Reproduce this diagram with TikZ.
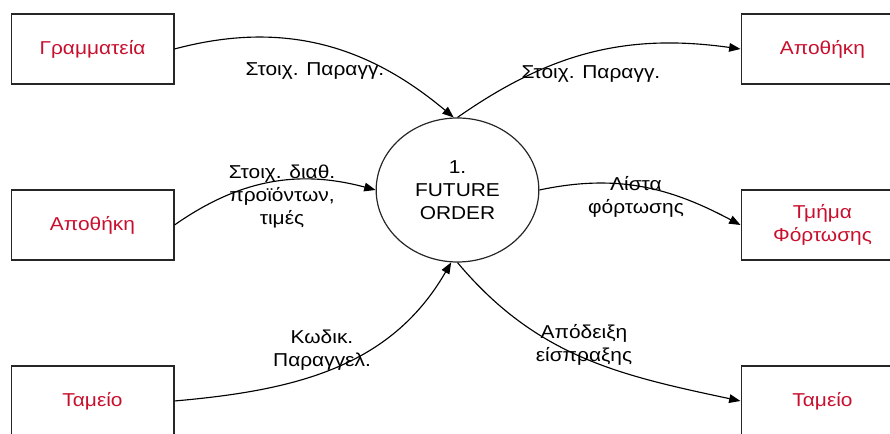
\documentclass[tikz,border=0pt]{standalone}
\usepackage{fontspec}
\setmainfont{Liberation Sans}[FakeStretch=1.12]
\usetikzlibrary{shapes.geometric,arrows.meta}
\definecolor{entred}{RGB}{200,16,46}

\begin{document}
\begin{tikzpicture}[x=0.75pt, y=0.75pt,
    font=\fontsize{14}{17.25}\selectfont,
    >={Triangle[length=8.5pt,width=6.5pt]},
    entity/.style={draw=black!85, line width=1pt, minimum width=122pt,
        minimum height=52.5pt, text=entred, align=center},
    process/.style={ellipse, draw=black!85, line width=0.9pt,
        minimum width=122pt, minimum height=108pt, align=center},
    flow/.style={->, line width=0.85pt},
    flowlabel/.style={align=center}]

\useasboundingbox (0,0) rectangle (890,434);

% external entities
\node[entity] (gram)    at (92.5,385)  {Γραμματεία};
\node[entity] (apothL)  at (92.5,209)  {Αποθήκη};
\node[entity] (tameioL) at (92.5,33)   {Ταμείο};
\node[entity] (apothR)  at (822.5,385) {Αποθήκη};
\node[entity] (fortosi) at (822.5,209) {Τμήμα\\Φόρτωσης};
\node[entity] (tameioR) at (822.5,33)  {Ταμείο};

% the process
\node[process] (order) at (457.5,244) {1.\\FUTURE\\ORDER};

% data flows
\draw[flow] (gram.east) to[out=15, in=140] (order.93);
\draw[flow] (order.north) to[out=35, in=172] (apothR.west);
\draw[flow] (apothL.east) to[out=35, in=165] (order.west);
\draw[flow] (order.east) to[out=12, in=152] (fortosi.west);
\draw[flow] (tameioL.east) to[out=5, in=240] (order.265);
\draw[flow] (order.south) to[out=-50, in=168] (tameioR.west);

\node[flowlabel] (lgram)   at (315,363)  {Στοιχ. Παραγγ.};
\node[flowlabel] (lapothR) at (591,360)  {Στοιχ. Παραγγ.};
\node[flowlabel] (lapothL) at (282,237)  {Στοιχ. διαθ.\\προϊόντων,\\τιμές};
\node[flowlabel] (lfort)   at (636,237.5) {Λίστα\\φόρτωσης};
\node[flowlabel] (ltamL)   at (322,84)   {Κωδικ.\\Παραγγελ.};
\node[flowlabel] (ltamR)   at (584,89)   {Απόδειξη\\είσπραξης};

\end{tikzpicture}
\end{document}
